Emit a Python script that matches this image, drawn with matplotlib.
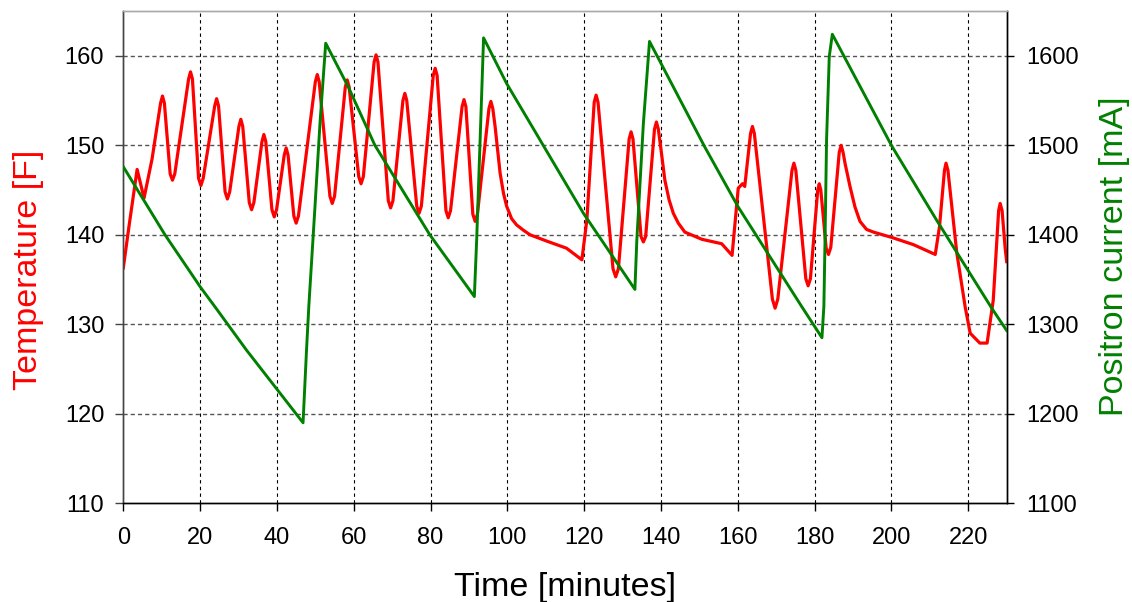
import matplotlib
matplotlib.use("Agg")
import matplotlib.pyplot as plt

plt.rcParams['font.family'] = ['Liberation Sans', 'DejaVu Sans']

# ---- data ----
temp_time = [0.0, 1.5, 3.6, 5.4, 7.5, 9.7, 10.2, 10.7, 12.2, 12.8, 13.4, 17.0, 17.5, 18.0,
             19.6, 20.2, 20.8, 23.8, 24.3, 24.8, 26.5, 27.1, 27.7, 30.1, 30.6, 31.1,
             32.8, 33.4, 34.0, 36.1, 36.6, 37.1, 38.7, 39.3, 39.9, 41.9, 42.4, 42.9,
             44.4, 45.0, 45.6, 50.0, 50.5, 51.0, 53.8, 54.4, 55.0, 57.8, 58.3, 58.8,
             61.3, 61.9, 62.5, 65.3, 65.8, 66.3, 69.0, 69.6, 70.2, 72.8, 73.3, 73.8,
             76.4, 77.0, 77.6, 80.7, 81.2, 81.7, 84.0, 84.6, 85.2, 88.2, 88.7, 89.2,
             91.0, 91.6, 92.2, 95.2, 95.7, 96.2, 96.8, 98.1, 99.0, 99.8, 101.1, 102.4,
             104.2, 105.9, 110.2, 115.4, 119.4, 120.7, 122.6, 123.1, 123.6, 127.5,
             128.2, 128.9, 131.7, 132.2, 132.7, 134.8, 135.4, 136.0, 138.3, 138.8,
             139.3, 140.0, 141.0, 142.1, 143.2, 144.5, 146.2, 150.6, 155.8, 158.5,
             160.1, 161.2, 161.8, 163.3, 163.8, 164.3, 169.0, 169.7, 170.4, 174.1,
             174.6, 175.1, 177.7, 178.3, 178.9, 180.8, 181.2, 181.6, 183.0, 183.6,
             184.2, 186.4, 186.9, 187.4, 187.9, 189.2, 190.5, 191.8, 193.5, 195.3,
             200.1, 205.7, 211.4, 212.5, 213.8, 214.2, 214.7, 217.0, 219.2, 220.5,
             223.0, 224.9, 226.5, 227.9, 228.3, 228.8, 229.6, 230.0]
temp_values = [136.3, 141.0, 147.3, 144.1, 148.5, 154.7, 155.5, 154.7, 146.8, 146.1, 146.8,
               157.4, 158.2, 157.4, 146.3, 145.5, 146.3, 154.4, 155.2, 154.4, 144.8, 144.0,
               144.8, 152.1, 152.9, 152.1, 143.6, 142.8, 143.6, 150.4, 151.2, 150.4,
               142.8, 142.0, 142.8, 148.9, 149.7, 148.9, 142.1, 141.3, 142.1, 157.1,
               157.9, 157.1, 144.3, 143.5, 144.3, 156.5, 157.3, 156.5, 146.5, 145.7,
               146.5, 159.3, 160.1, 159.3, 143.8, 143.0, 143.8, 155.0, 155.8, 155.0,
               143.2, 142.4, 143.2, 157.8, 158.6, 157.8, 142.7, 141.9, 142.7, 154.3,
               155.1, 154.3, 142.3, 141.5, 142.3, 154.1, 154.9, 154.1, 152.1, 146.9,
               144.6, 143.2, 141.8, 141.1, 140.5, 140.0, 139.3, 138.5, 137.2, 141.7,
               154.8, 155.6, 154.8, 136.2, 135.3, 136.2, 150.7, 151.5, 150.7, 139.8,
               139.2, 139.8, 151.8, 152.6, 151.8, 149.5, 146.1, 143.9, 142.4, 141.3,
               140.3, 139.5, 139.0, 137.7, 145.2, 145.7, 145.4, 151.3, 152.1, 151.3,
               132.8, 131.8, 132.8, 147.2, 148.0, 147.2, 135.1, 134.3, 135.1, 145.0,
               145.7, 145.0, 138.5, 137.8, 138.6, 149.2, 150.0, 149.2, 148.0, 145.4,
               143.1, 141.5, 140.6, 140.3, 139.7, 138.9, 137.8, 140.9, 147.2, 148.0,
               147.2, 138.0, 131.9, 129.0, 127.9, 127.9, 132.7, 142.7, 143.5, 142.7,
               138.5, 137.0]

current_time = [0.0, 10.85, 20.0, 24.3, 32.1, 46.8, 47.7, 48.3, 49.9, 51.2, 52.7, 58.6,
                65.5, 79.8, 91.4, 92.0, 92.9, 93.8, 99.8, 119.8, 133.2, 133.7, 135.4,
                137.0, 151.4, 160.1, 176.6, 181.9, 182.4, 182.7, 183.1, 183.8, 184.6,
                200.1, 211.8, 226.1, 230.0]
current_values = [1476, 1400, 1342, 1317, 1271, 1190, 1271, 1320, 1431, 1524, 1614, 1565,
                  1500, 1400, 1331, 1394, 1506, 1620, 1569, 1424, 1339, 1394, 1524,
                  1616, 1498, 1431, 1320, 1285, 1320, 1394, 1506, 1599, 1624,
                  1499, 1416, 1318, 1293]

x_ticks = list(range(0, 221, 20))
temp_ticks = list(range(110, 161, 10))
current_ticks = list(range(1100, 1601, 100))

# ---- figure ----
W, H = 1132, 602
fig = plt.figure(figsize=(W / 100, H / 100), dpi=100)
ax = fig.add_axes([123.3 / W, 1 - 503.3 / H, (1006.7 - 123.3) / W, (503.3 - 11) / H])
ax2 = ax.twinx()

ax.set_xlim(0, 230)
ax.set_ylim(110, 165)
ax2.set_ylim(1100, 1650)
ax.set_xticks(x_ticks)
ax.set_yticks(temp_ticks)
ax2.set_yticks(current_ticks)

ax.plot(temp_time, temp_values, color='#ff0000', lw=2.3, solid_joinstyle='round', zorder=3)
ax2.plot(current_time, current_values, color='#008000', lw=2.1, solid_joinstyle='round', zorder=3)

# grid
ax.grid(False)
ax2.grid(False)
for xv in x_ticks[1:]:
    ax.axvline(xv, color='black', lw=0.8, linestyle=(0, (3, 3)), zorder=1)
for yv in temp_ticks[1:]:
    ax.axhline(yv, color='#555555', lw=1.0, linestyle=(0, (3, 2.2)), zorder=1)

# spines
for a in (ax, ax2):
    a.spines['top'].set_color('#aaaaaa')
    a.spines['left'].set_color('#444444')
    a.spines['bottom'].set_color('black')
    a.spines['right'].set_color('black')
    for s in a.spines.values():
        s.set_linewidth(1.0)

ax.tick_params(axis='x', direction='out', length=5.8, width=1.0, pad=11, labelsize=17, colors='black')
ax.tick_params(axis='y', direction='out', length=5.8, width=1.0, pad=8, labelsize=17, colors='black')
ax2.tick_params(axis='y', direction='out', length=4.8, width=1.0, pad=9.5, labelsize=17, colors='black')
ax.tick_params(axis='y', color='#444444')

fig.text(29 / W, 1 - 270 / H, 'Temperature [F]', rotation=90, ha='center', va='center',
         fontsize=24.5, color='#ff0000')
fig.text(1114 / W, 1 - 256 / H, 'Positron current [mA]', rotation=90, ha='center', va='center',
         fontsize=24.5, color='#008000')
fig.text(565 / W, 1 - 596 / H, 'Time [minutes]', ha='center', va='baseline',
         fontsize=24.5, color='black')

fig.savefig('out.png', dpi=100)
